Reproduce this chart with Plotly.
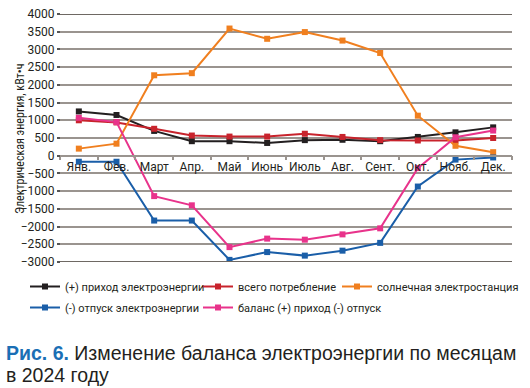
import plotly.graph_objects as go

months = ["Янв.", "Фев.", "Март", "Апр.", "Май", "Июнь", "Июль", "Авг.", "Сент.", "Окт.", "Нояб.", "Дек."]

income = [1250, 1150, 700, 410, 410, 360, 440, 450, 410, 530, 660, 800]
consumption = [1000, 940, 760, 570, 540, 540, 620, 530, 440, 430, 430, 500]
solar = [200, 340, 2270, 2330, 3590, 3300, 3490, 3250, 2900, 1130, 280, 100]
outflow = [-170, -170, -1830, -1830, -2940, -2720, -2820, -2680, -2460, -870, -110, -50]
balance = [1070, 950, -1140, -1400, -2580, -2340, -2370, -2220, -2050, -350, 520, 710]

y_ticks = list(range(-3000, 4001, 500))

series = [
    ("(+) приход электроэнергии", income, "#231f20", "legend"),
    ("всего потребление", consumption, "#c8232c", "legend2"),
    ("солнечная электростанция", solar, "#f07f1f", "legend3"),
    ("(-) отпуск электроэнергии", outflow, "#1a5ea8", "legend"),
    ("баланс (+) приход (-) отпуск", balance, "#e8338b", "legend2"),
]

fig = go.Figure()
for i, (name, vals, color, lg) in enumerate(series):
    fig.add_trace(go.Scatter(
        x=months, y=vals, name=name, mode="lines+markers",
        line=dict(color=color, width=2),
        marker=dict(symbol="square", size=6, color=color),
        legend=lg, legendgroup=str(i),
    ))

FONT = "Roboto, Liberation Sans, sans-serif"
TXT = "#231f20"
GRID = "#9a948f"

legend_common = dict(
    orientation="v", xanchor="left", yanchor="top",
    font=dict(family=FONT, size=11, color=TXT),
    bgcolor="rgba(0,0,0,0)", tracegroupgap=2, itemwidth=30,
)
LEG_Y = -(272 - 262) / 248

fig.update_layout(
    width=530, height=388,
    margin=dict(l=60, r=18, t=14, b=126, autoexpand=False),
    paper_bgcolor="white", plot_bgcolor="white",
    font=dict(family=FONT, size=12, color=TXT),
    xaxis=dict(
        type="category", range=[-0.5, 11.5], domain=[0, 1],
        anchor="free", position=3/7, tickangle=0,
        showgrid=False, showline=True, linecolor=GRID, linewidth=1.5,
        ticks="outside", tickson="boundaries", ticklen=4, tickcolor=GRID, tickwidth=1.5,
        tickfont=dict(family=FONT, size=12, color=TXT),
        zeroline=False,
    ),
    yaxis=dict(
        range=[-3000, 4000], tickvals=y_ticks, domain=[0, 1],
        anchor="free", position=0,
        showgrid=True, gridcolor=GRID, gridwidth=1.5,
        zeroline=False, showline=False,
        ticks="outside", ticklen=3, tickcolor="#555", tickwidth=1.5,
        tickfont=dict(family=FONT, size=12, color=TXT),
    ),
    legend=dict(x=-35/452, y=LEG_Y, **legend_common),
    legend2=dict(x=138/452, y=LEG_Y, **legend_common),
    legend3=dict(x=277/452, y=LEG_Y, **legend_common),
    showlegend=True,
)

for yv in (4000, -3000):
    fig.add_shape(type="line", xref="paper", yref="y", x0=0, x1=1, y0=yv, y1=yv,
                  line=dict(color="#6e6863", width=2))

# y-axis title
fig.add_annotation(
    xref="paper", yref="paper", x=(20 - 60) / 452, y=(262 - 139) / 248,
    xanchor="center", yanchor="middle", textangle=-90,
    text="Электрическая энергия, кВт•ч", showarrow=False,
    font=dict(family="Liberation Sans Narrow, Roboto Condensed, Roboto, sans-serif", size=12, color=TXT),
)

fig.add_annotation(
    xref="paper", yref="paper", x=-56/452, y=-(353 - 262) / 248, xanchor="left", yanchor="middle",
    text='<span style="color:#1a6fb5"><b>Рис. 6.</b></span> Изменение баланса электроэнергии по месяцам',
    showarrow=False, font=dict(family="Liberation Sans, Arial, sans-serif", size=19.5, color=TXT),
)
fig.add_annotation(
    xref="paper", yref="paper", x=-56/452, y=-(375 - 262) / 248, xanchor="left", yanchor="middle",
    text="в 2024 году",
    showarrow=False, font=dict(family="Liberation Sans, Arial, sans-serif", size=19.5, color=TXT),
)

fig.write_html("out.html", config={"displayModeBar": False},
               post_script="document.body.style.margin='0';document.body.style.padding='0';")
